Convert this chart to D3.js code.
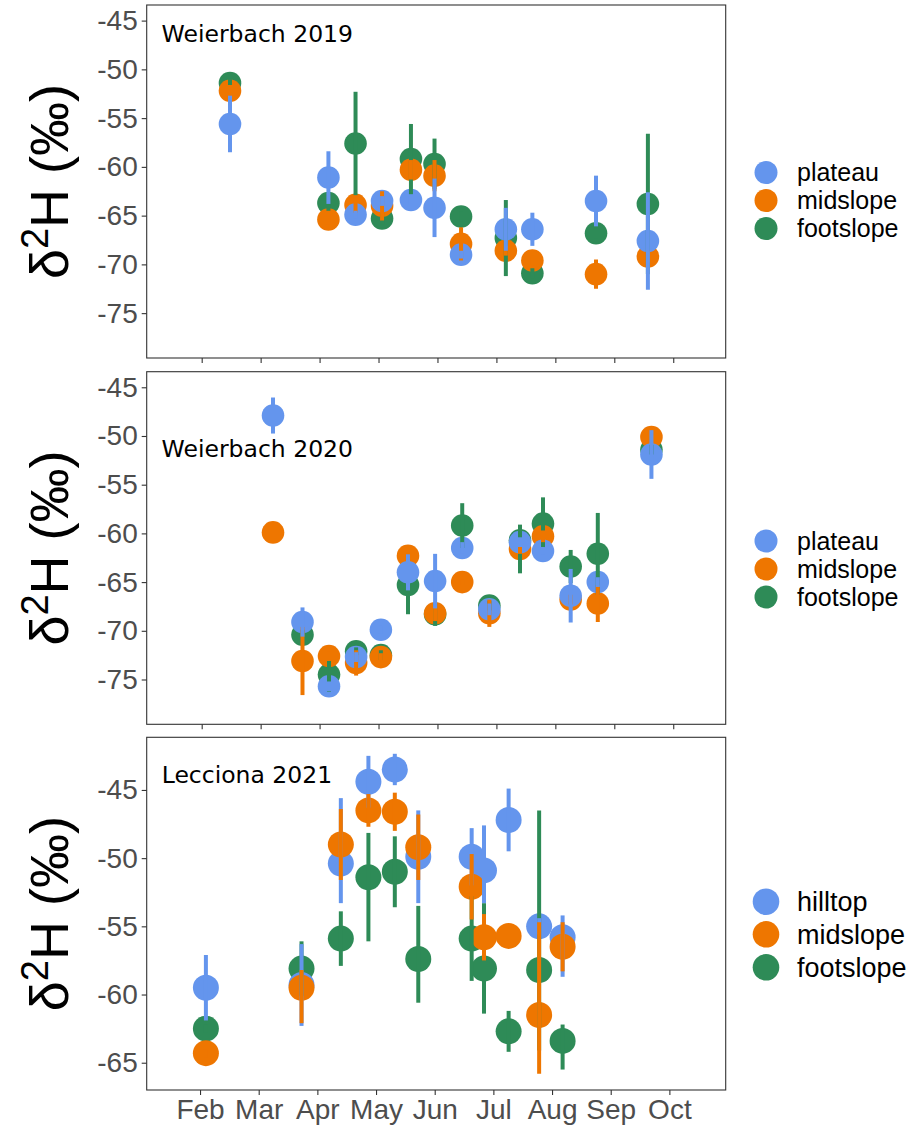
<!DOCTYPE html>
<html>
<head>
<meta charset="utf-8">
<script src="https://cdn.jsdelivr.net/npm/d3@7/dist/d3.min.js"></script>
<style>
  body { margin: 0; background: #fff; }
  text { font-family: "Liberation Sans", Arial, sans-serif; }
</style>
</head>
<body>
<svg id="chart" width="917" height="1130"></svg>
<script>
// month ticks (x is month number, 2 = Feb)
const monthTicks = [2, 3, 4, 5, 6, 7, 8, 9, 10];
const monthLabels = ["Feb", "Mar", "Apr", "May", "Jun", "Jul", "Aug", "Sep", "Oct"];
const yTicksW = [-45, -50, -55, -60, -65, -70, -75];
const yTicksL = [-45, -50, -55, -60, -65];

// Weierbach 2019
const w19Dates = [2.48, 4.15, 4.61, 5.06, 5.55, 5.95, 6.40, 7.16, 7.61, 8.69, 9.57];
const w19Plateau = [-55.6, -61.1, -64.9, -63.5, -63.4, -64.2, -69.0, -66.4, -66.4, -63.5, -67.6];
const w19PlateauSd = [2.9, 2.7, 0.4, 0.5, 0.5, 3.0, 0.4, 2.2, 1.7, 2.6, 5.0];
const w19Mid = [-52.2, -65.4, -63.9, -64.0, -60.3, -60.9, -67.9, -68.6, -69.6, -71.0, -69.2];
const w19MidSd = [0.6, 0.5, 0.8, 1.5, 1.0, 1.6, 1.7, 0.5, 0.5, 1.5, 0.6];
const w19Foot = [-51.4, -63.7, -57.6, -65.3, -59.2, -59.7, -65.1, -67.3, -70.9, -66.8, -63.8];
const w19FootSd = [0.4, 0.8, 5.3, 0.6, 3.6, 2.6, 0.5, 3.9, 0.5, 0.5, 7.2];

// Weierbach 2020
const w20Dates = [3.21, 3.71, 4.16, 4.62, 5.04, 5.50, 5.96, 6.42, 6.88, 7.40, 7.79, 8.26, 8.72, 9.63];
const w20Plateau = [-47.9, -69.1, -75.7, -72.7, -69.9, -64.0, -64.9, -61.5, -67.8, -60.9, -61.8, -66.4, -65.0, -51.9];
const w20PlateauSd = [1.85, 1.5, 0.5, 0.5, 0.4, 1.85, 2.8, 0.6, 0.6, 0.5, 0.4, 2.75, 0.5, 2.5];
const w20Mid = [-59.9, -73.1, -72.6, -73.3, -72.7, -62.3, -68.2, -65.0, -68.2, -61.6, -60.3, -66.8, -67.2, -50.1];
const w20MidSd = [0, 3.5, 0.5, 1.3, 0.4, 0.5, 0.8, 0.3, 1.4, 0.5, 0.6, 0.5, 1.9, 0.3];
const w20Foot = [null, -70.4, -74.5, -72.1, -72.5, -65.3, -68.3, -59.2, -67.4, -60.7, -59.0, -63.4, -62.1, -51.4];
const w20FootSd = [null, 0.5, 1.75, 0.4, 0.5, 3.0, 1.2, 2.3, 0.5, [3.4, 1.6], 2.7, 1.7, 4.2, 0.5];

// Lecciona 2021  (sd given as [down, up] where the bar is not symmetric)
const l21Dates = [2.10, 3.73, 4.40, 4.87, 5.32, 5.72, 6.63, 6.84, 7.26, 7.78, 8.18];
const l21Hill = [-59.5, -59.3, -50.4, -44.4, -43.5, -49.9, -49.9, -50.9, -47.2, -55.0, -55.8];
const l21HillSd = [2.4, 3.0, [2.9, 4.8], 1.9, 1.15, 3.4, 2.1, [2.4, 3.3], 2.3, 0.6, [2.9, 1.6]];
const l21Mid = [-64.3, -59.5, -49.0, -46.5, -46.6, -49.2, -52.1, -55.8, -55.7, -61.5, -56.5];
const l21MidSd = [0.3, [2.6, 1.3], 2.6, 1.2, 1.4, 2.4, 2.4, 1.7, 0, [4.3, 6.8], 1.8];
const l21Foot = [-62.5, -58.1, -55.9, -51.4, -51.0, -57.4, -55.9, -58.1, -62.7, -58.2, -63.4];
const l21FootSd = [0.3, 2.0, 2.0, [4.7, 3.25], 2.6, [3.2, 3.9], 3.1, [3.3, 4.8], 1.5, [5.9, 11.7], [2.1, 1.2]];

const colBlue = "#6495ED", colOrange = "#EE7600", colGreen = "#2E8B57";

const panels = [
  { label: "Weierbach 2019", labelPos: [1.32, -47.15], top: 5, bottom: 358, xDom: [1.067, 10.89], yDom: [-79.6, -43.4],
    yTicks: yTicksW, r: 11.3, dates: w19Dates, showX: false,
    legendY: [172.5, 200.5, 228.5], legendR: 11.5, legendFont: 25,
    series: [
      { name: "plateau", color: colBlue, v: w19Plateau, sd: w19PlateauSd },
      { name: "midslope", color: colOrange, v: w19Mid, sd: w19MidSd },
      { name: "footslope", color: colGreen, v: w19Foot, sd: w19FootSd }],
    drawOrder: [2, 1, 0] },
  { label: "Weierbach 2020", labelPos: [1.32, -52.13], top: 371.7, bottom: 724.3, xDom: [1.067, 10.89], yDom: [-79.6, -43.4],
    yTicks: yTicksW, r: 11.3, dates: w20Dates, showX: false,
    legendY: [541, 569, 597], legendR: 11.5, legendFont: 25,
    series: [
      { name: "plateau", color: colBlue, v: w20Plateau, sd: w20PlateauSd },
      { name: "midslope", color: colOrange, v: w20Mid, sd: w20MidSd },
      { name: "footslope", color: colGreen, v: w20Foot, sd: w20FootSd }],
    drawOrder: [2, 1, 0] },
  { label: "Lecciona 2021", labelPos: [1.347, -44.51], top: 737.3, bottom: 1090, xDom: [1.091, 10.96], yDom: [-67.0, -41.14],
    yTicks: yTicksL, r: 13, dates: l21Dates, showX: true,
    legendY: [901.7, 934.3, 967.3], legendR: 13.3, legendFont: 27,
    series: [
      { name: "hilltop", color: colBlue, v: l21Hill, sd: l21HillSd },
      { name: "midslope", color: colOrange, v: l21Mid, sd: l21MidSd },
      { name: "footslope", color: colGreen, v: l21Foot, sd: l21FootSd }],
    drawOrder: [2, 0, 1] }
];

const svg = d3.select("#chart");
const left = 146.7, right = 725.7;
const axisCol = "#4D4D4D";

panels.forEach((p, pi) => {
  const x = d3.scaleLinear().domain(p.xDom).range([left, right]);
  const y = d3.scaleLinear().domain(p.yDom).range([p.bottom, p.top]);
  const g = svg.append("g");

  // y axis (plain hyphen minus like the original)
  const ya = g.append("g").attr("transform", `translate(${left},0)`)
    .call(d3.axisLeft(y).tickValues(p.yTicks).tickSize(5).tickPadding(4).tickFormat(d => String(d)));
  ya.select(".domain").remove();
  ya.selectAll("line").attr("stroke", "#333").attr("stroke-width", 1.1);
  ya.selectAll("text").attr("fill", axisCol).attr("font-size", 28)
    .style("font-family", '"Liberation Sans", Arial, sans-serif');

  // x axis (ticks on every panel, labels only at the bottom)
  const xa = g.append("g").attr("transform", `translate(0,${p.bottom})`)
    .call(d3.axisBottom(x).tickValues(monthTicks).tickSize(5).tickPadding(4)
      .tickFormat((d, i) => p.showX ? monthLabels[i] : ""));
  xa.select(".domain").remove();
  xa.selectAll("line").attr("stroke", "#333").attr("stroke-width", 1.1);
  xa.selectAll("text").attr("fill", axisCol).attr("font-size", 28)
    .style("font-family", '"Liberation Sans", Arial, sans-serif');

  // panel border
  g.append("rect").attr("x", left).attr("y", p.top)
    .attr("width", right - left).attr("height", p.bottom - p.top)
    .attr("fill", "none").attr("stroke", "#333").attr("stroke-width", 1.1);

  // build rows from the arrays
  const rows = [];
  p.drawOrder.forEach(si => {
    const s = p.series[si];
    p.dates.forEach((d, i) => {
      if (s.v[i] == null) return;
      const e = s.sd[i];
      const dn = Array.isArray(e) ? e[0] : e, up = Array.isArray(e) ? e[1] : e;
      rows.push({ x: d, v: s.v[i], lo: s.v[i] - dn, hi: s.v[i] + up, color: s.color });
    });
  });

  g.append("g").selectAll("circle").data(rows).join("circle")
    .attr("cx", d => x(d.x)).attr("cy", d => y(d.v)).attr("r", p.r)
    .attr("fill", d => d.color);

  g.append("g").selectAll("line").data(rows.filter(d => d.hi > d.lo)).join("line")
    .attr("x1", d => x(d.x)).attr("x2", d => x(d.x))
    .attr("y1", d => y(d.lo)).attr("y2", d => y(d.hi))
    .attr("stroke", d => d.color).attr("stroke-width", 4);

  // panel label
  g.append("text").attr("x", x(p.labelPos[0])).attr("y", y(p.labelPos[1]))
    .attr("font-size", 23.5).style("font-family", '"DejaVu Sans", Verdana, sans-serif')
    .attr("fill", "#000").text(p.label);

  // y title
  const cy = (p.top + p.bottom) / 2;
  const t = g.append("text").attr("transform", `translate(68,${cy}) rotate(-90)`)
    .attr("text-anchor", "middle").attr("font-size", 54).attr("fill", "#000");
  t.append("tspan").text("δ");
  t.append("tspan").attr("font-size", 38).attr("dy", -20).text("2");
  t.append("tspan").attr("dy", 20).text("H (‰)");

  // legend
  const lg = g.append("g");
  p.series.forEach((s, i) => {
    lg.append("circle").attr("cx", 766).attr("cy", p.legendY[i]).attr("r", p.legendR).attr("fill", s.color);
    lg.append("text").attr("x", 797).attr("y", p.legendY[i]).attr("dy", "0.35em")
      .attr("font-size", p.legendFont).attr("fill", "#000").text(s.name);
  });
});
</script>
</body>
</html>
